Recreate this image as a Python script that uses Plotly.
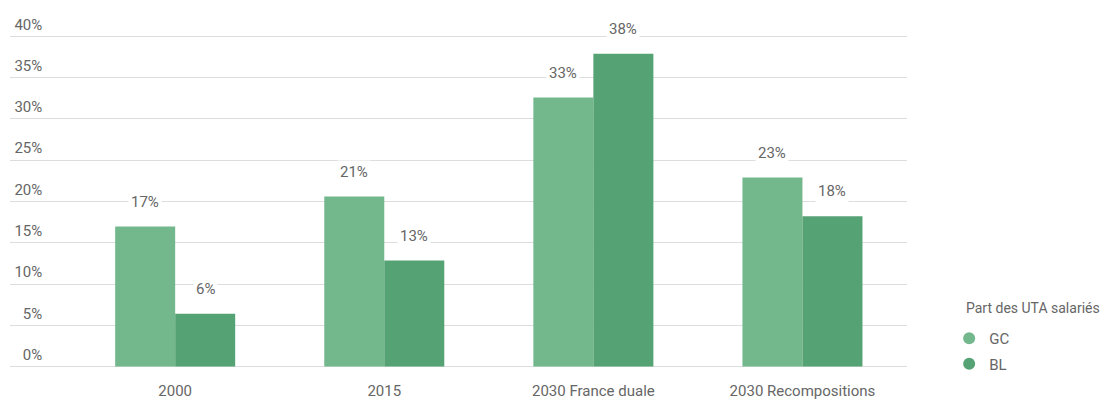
import plotly.graph_objects as go

categories = ["2000", "2015", "2030 France duale", "2030 Recompositions"]
gc_values = [16.97, 20.6, 32.6, 22.9]
bl_values = [6.4, 12.85, 37.9, 18.2]
gc_labels = ["17%", "21%", "33%", "23%"]
bl_labels = ["6%", "13%", "38%", "18%"]
y_ticks = [0, 5, 10, 15, 20, 25, 30, 35, 40]
y_tick_labels = ["0%", "5%", "10%", "15%", "20%", "25%", "30%", "35%", "40%"]
legend_title = "Part des UTA salariés"

GC_COLOR = "#73b78d"
BL_COLOR = "#55a275"
TEXT = "#666666"
FONT = "Roboto"

fig = go.Figure()
fig.add_trace(go.Bar(x=categories, y=gc_values, name="GC", marker_color=GC_COLOR,
                     marker_line_width=0, showlegend=False, hoverinfo="skip"))
fig.add_trace(go.Bar(x=categories, y=bl_values, name="BL", marker_color=BL_COLOR,
                     marker_line_width=0, showlegend=False, hoverinfo="skip"))
# legend entries with circle markers
fig.add_trace(go.Scatter(x=[None], y=[None], mode="markers", name="GC", legendgroup="gc",
                         marker=dict(color=GC_COLOR, size=11, symbol="circle")))
fig.add_trace(go.Scatter(x=[None], y=[None], mode="markers", name="BL", legendgroup="bl",
                         marker=dict(color=BL_COLOR, size=11, symbol="circle")))
# invisible trace carrying the tick-label axis
fig.add_trace(go.Scatter(x=categories, y=gc_values, mode="markers", yaxis="y2",
                         marker=dict(opacity=0), showlegend=False, hoverinfo="skip"))

for i, (v, lab) in enumerate(zip(gc_values, gc_labels)):
    fig.add_annotation(x=i, y=v, text=lab, showarrow=False, xshift=-30, yshift=13,
                       yanchor="bottom", bgcolor="white", borderpad=2,
                       font=dict(family=FONT, size=15, color=TEXT))
for i, (v, lab) in enumerate(zip(bl_values, bl_labels)):
    fig.add_annotation(x=i, y=v, text=lab, showarrow=False, xshift=30, yshift=13,
                       yanchor="bottom", bgcolor="white", borderpad=2,
                       font=dict(family=FONT, size=15, color=TEXT))

# legend title
fig.add_annotation(xref="paper", yref="paper", x=1.064, y=0.182, xanchor="left",
                   yanchor="middle", text=legend_title, showarrow=False,
                   font=dict(family=FONT, size=14, color=TEXT))

YR = [-0.3, 40.3]
fig.update_layout(
    width=1114, height=401,
    margin=dict(l=10, r=207, t=34, b=32),
    paper_bgcolor="white", plot_bgcolor="white",
    barmode="group", bargap=0.426, bargroupgap=0,
    font=dict(family=FONT, size=15, color=TEXT),
    xaxis=dict(type="category", range=[-0.79, 3.5], showgrid=False, zeroline=False,
               showline=False, ticks="", ticklabelstandoff=11, automargin=False,
               tickfont=dict(size=15, color=TEXT)),
    yaxis=dict(range=YR, tickvals=y_ticks, showticklabels=False, automargin=False,
               showgrid=True, gridcolor="#dddddd", gridwidth=1, zeroline=False),
    yaxis2=dict(range=YR, overlaying="y", anchor="free", position=0.036, side="left",
                tickvals=y_ticks, ticktext=y_tick_labels, showgrid=False, zeroline=False,
                showline=False, ticks="", ticklabelshift=-12, ticklabelstandoff=0,
                automargin=False, tickfont=dict(size=15, color=TEXT)),
    legend=dict(x=1.047, y=0.14, xanchor="left", yanchor="top",
                font=dict(size=15, color=TEXT), itemsizing="constant", itemwidth=30,
                tracegroupgap=3, bgcolor="rgba(0,0,0,0)"),
)

fig.write_html("out.html", config={"displayModeBar": False},
               post_script="document.body.style.margin='0';document.body.style.overflow='hidden';")
